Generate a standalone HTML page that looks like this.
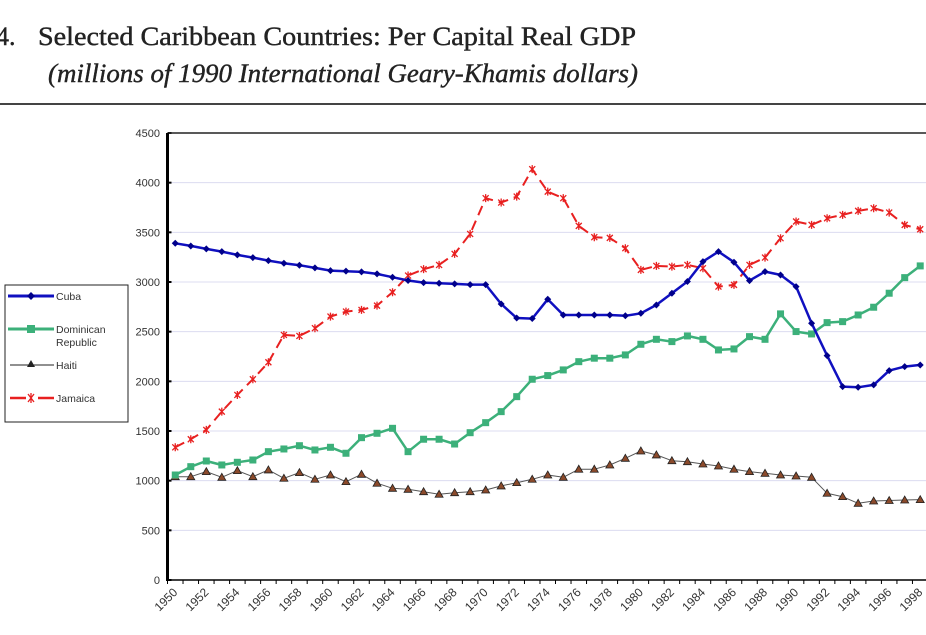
<!DOCTYPE html>
<html><head><meta charset="utf-8"><style>
html,body{margin:0;padding:0;background:#fff;width:926px;height:635px;overflow:hidden}
svg{display:block}
</style></head><body>
<svg id="chart" width="926" height="635" viewBox="0 0 926 635" xmlns="http://www.w3.org/2000/svg">
<text x="-4" y="45" font-family="Liberation Serif, serif" font-size="26" fill="#222" stroke="#222" stroke-width="0.4">4.</text>
<text x="38" y="45" font-family="Liberation Serif, serif" font-size="26" fill="#222" stroke="#222" stroke-width="0.4" textLength="598" lengthAdjust="spacingAndGlyphs">Selected Caribbean Countries: Per Capital Real GDP</text>
<text x="48" y="82" font-family="Liberation Serif, serif" font-size="26" font-style="italic" fill="#222" stroke="#222" stroke-width="0.4" textLength="590" lengthAdjust="spacingAndGlyphs">(millions of 1990 International Geary-Khamis dollars)</text>
<line x1="0" y1="104" x2="926" y2="104" stroke="#444" stroke-width="2"/>
<g id="grid"></g><g id="axes"></g><g id="series"></g>
<g>
<rect x="5" y="285" width="123" height="137" fill="#fff" stroke="#222" stroke-width="1"/>
<line x1="8" y1="296" x2="54" y2="296" stroke="#1010c0" stroke-width="3"/><path d="M31 292 L35 296 L31 300 L27 296Z" fill="#00008b"/>
<text x="56" y="300" font-family="Liberation Sans, sans-serif" font-size="10.5" fill="#333">Cuba</text>
<line x1="8" y1="329" x2="54" y2="329" stroke="#3cb07a" stroke-width="3"/><rect x="27" y="325" width="8" height="8" fill="#3cb07a"/>
<text x="56" y="333" font-family="Liberation Sans, sans-serif" font-size="10.5" fill="#333">Dominican</text>
<text x="56" y="346" font-family="Liberation Sans, sans-serif" font-size="10.5" fill="#333">Republic</text>
<line x1="10" y1="365" x2="54" y2="365" stroke="#222" stroke-width="1"/><path d="M31 360 L35 367 L27 367Z" fill="#222"/>
<text x="56" y="369" font-family="Liberation Sans, sans-serif" font-size="10.5" fill="#333">Haiti</text>
<line x1="10" y1="398" x2="26" y2="398" stroke="#e82020" stroke-width="2.5"/><line x1="38" y1="398" x2="54" y2="398" stroke="#e82020" stroke-width="2.5"/>
<path d="M28 394 L34 402 M34 394 L28 402 M31 393 L31 403" stroke="#e82020" stroke-width="1.3"/>
<text x="56" y="402" font-family="Liberation Sans, sans-serif" font-size="10.5" fill="#333">Jamaica</text>
</g>
</svg>
<script>
const years = [];
for (let y = 1950; y <= 1998; y++) years.push(y);
const yTicks = [0,500,1000,1500,2000,2500,3000,3500,4000,4500];
const cuba = [3390,3363,3333,3306,3273,3246,3215,3189,3169,3142,3115,3109,3102,3082,3048,3015,2994,2988,2981,2974,2974,2779,2638,2632,2826,2668,2668,2668,2668,2660,2685,2769,2887,3005,3205,3306,3199,3014,3105,3071,2954,2585,2259,1947,1940,1964,2108,2148,2165];
const dominican = [1057,1141,1198,1158,1185,1208,1292,1319,1352,1309,1336,1276,1433,1477,1527,1292,1417,1417,1369,1483,1584,1695,1846,2021,2058,2115,2198,2233,2233,2266,2373,2423,2400,2457,2423,2316,2326,2450,2423,2679,2501,2477,2591,2601,2668,2746,2887,3044,3162];
const haiti = [1040,1040,1091,1034,1101,1040,1108,1024,1081,1014,1057,990,1064,974,923,913,889,863,879,889,906,947,980,1014,1057,1034,1115,1115,1158,1225,1299,1259,1201,1191,1168,1148,1115,1091,1074,1057,1047,1034,873,839,772,795,800,805,809];
const jamaica = [1336,1417,1511,1695,1863,2021,2192,2467,2457,2535,2652,2702,2719,2762,2897,3065,3129,3172,3283,3484,3844,3800,3860,4136,3910,3844,3565,3451,3444,3340,3122,3162,3155,3172,3139,2954,2971,3172,3246,3441,3609,3575,3642,3676,3716,3743,3699,3575,3531];

const NS = 'http://www.w3.org/2000/svg';
const X0 = 167.5, STEP = 15.52, Y0 = 580, YMAX = 4500, YTOP = 133;
function xs(i){ return X0 + STEP*(i+0.5); }
function ys(v){ return Y0 - (v/YMAX)*(Y0-YTOP); }
function mk(tag, attrs, parent){ const e=document.createElementNS(NS,tag); for(const k in attrs) e.setAttribute(k,attrs[k]); parent.appendChild(e); return e; }
const gridG=document.getElementById('grid'), axesG=document.getElementById('axes'), seriesG=document.getElementById('series');

yTicks.forEach(t=>{
  if(t>0 && t<YMAX){ const g=mk('line',{x1:X0,x2:926,y1:ys(t),y2:ys(t),stroke:'#dcdcf0','stroke-width':1},gridG);
  
   }
  const lb=mk('text',{x:160,y:ys(t)+4,'text-anchor':'end','font-family':'Liberation Sans, sans-serif','font-size':11,fill:'#333'},axesG);
  lb.textContent=t;
  
  
  mk('line',{x1:X0,x2:X0+4,y1:ys(t),y2:ys(t),stroke:'#000','stroke-width':2},axesG);
});
const topBorder=mk('line',{x1:X0,x2:926,y1:YTOP,y2:YTOP,stroke:'#222','stroke-width':1.5},axesG);


const yAxisLine=mk('line',{x1:X0,x2:X0,y1:YTOP,y2:Y0+1,stroke:'#000','stroke-width':3},axesG);


const xAxisLine=mk('line',{x1:X0,x2:926,y1:Y0,y2:Y0,stroke:'#000','stroke-width':1.5},axesG);


years.forEach((yr,i)=>{
  mk('line',{x1:X0+STEP*i,x2:X0+STEP*i,y1:Y0,y2:Y0+4,stroke:'#000','stroke-width':1},axesG);
  if(i%2===0){
    const cx=xs(i)+3, cy=Y0+13;
    const t=mk('text',{x:cx,y:cy,'text-anchor':'end','font-family':'Liberation Sans, sans-serif','font-size':12,fill:'#333',transform:`rotate(-45 ${cx} ${cy})`},axesG);
    t.textContent=yr;
    
    
  }
});

function drawSeries(vals,name,color,width,dash,marker){
  const g=mk('g',{},seriesG);
  
  
  const d=vals.map((v,i)=>(i?'L':'M')+xs(i).toFixed(1)+' '+ys(v).toFixed(1)).join(' ');
  const attrs={d:d,fill:'none',stroke:color,'stroke-width':width,'stroke-linejoin':'round'};
  if(dash) attrs['stroke-dasharray']=dash;
  mk('path',attrs,g);
  vals.forEach((v,i)=>{
    const x=xs(i), y=ys(v); let m;
    if(marker==='diamond') m=mk('path',{d:`M${x} ${y-3.5} L${x+3.5} ${y} L${x} ${y+3.5} L${x-3.5} ${y}Z`,fill:'#00008b'},g);
    else if(marker==='square') m=mk('rect',{x:x-3.5,y:y-3.5,width:7,height:7,fill:'#3cb07a'},g);
    else if(marker==='triangle') m=mk('path',{d:`M${x} ${y-4} L${x+4} ${y+3} L${x-4} ${y+3}Z`,fill:'#8b4a2b',stroke:'#222','stroke-width':0.8},g);
    else m=mk('path',{d:`M${x-3} ${y-3} L${x+3} ${y+3} M${x+3} ${y-3} L${x-3} ${y+3} M${x} ${y-4} L${x} ${y+4}`,stroke:'#e82020','stroke-width':1.3},g);
    
    
  });
}
drawSeries(haiti,'haiti-series','#555',1,null,'triangle');
drawSeries(dominican,'dominican-republic-series','#3cb07a',2.5,null,'square');
drawSeries(jamaica,'jamaica-series','#e82020',2,'10 6','star');
drawSeries(cuba,'cuba-series','#1010c0',2.5,null,'diamond');
</script>
</body></html>
